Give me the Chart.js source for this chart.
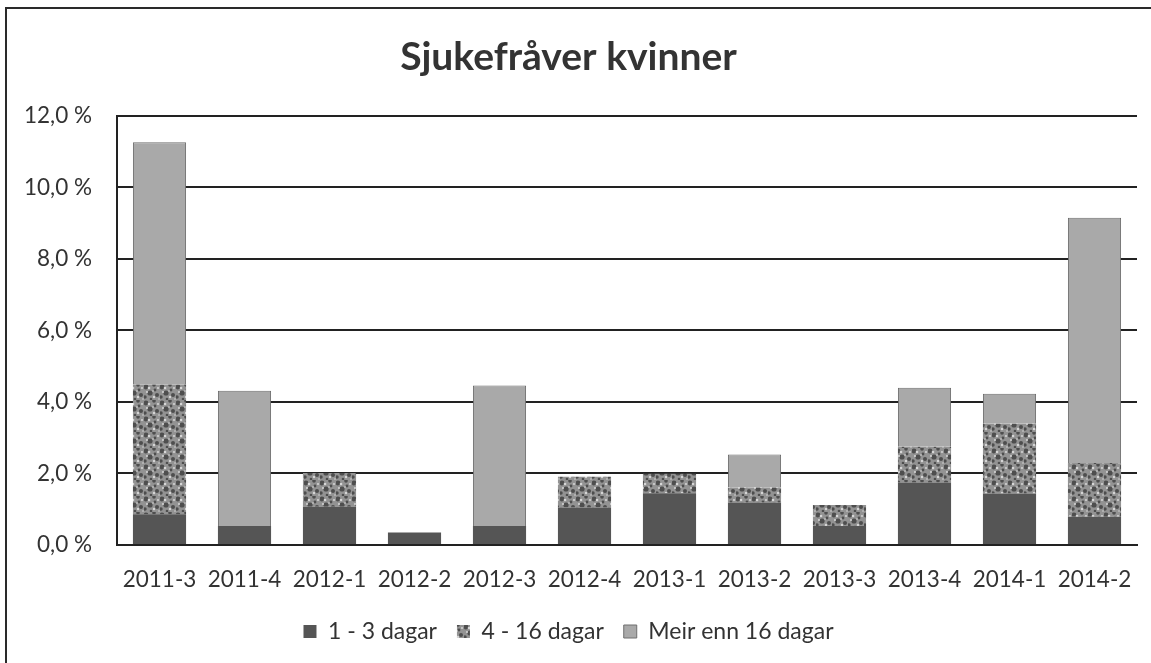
<!DOCTYPE html>
<html>
<head>
<meta charset="utf-8">
<title>Sjukefråver kvinner</title>
<script src="https://cdn.jsdelivr.net/npm/chart.js@4"></script>
<style>
  html, body { margin: 0; padding: 0; background: #fff; }
  #wrap { position: relative; width: 1151px; height: 663px; overflow: hidden; }
  #frame { position: absolute; left: 5px; top: 7px; right: -4px; bottom: -4px;
           border-left: 2px solid #2a2a2a; border-top: 2px solid #2a2a2a; }
  canvas { position: absolute; left: 0; top: 0; }
</style>
</head>
<body>
<div id="wrap">
  <div id="frame"></div>
  <canvas id="chart" width="1151" height="663"></canvas>
</div>
<script>
// Sick leave, women, per quarter (percent), stacked by length of absence
const quarters = ['2011-3', '2011-4', '2012-1', '2012-2', '2012-3', '2012-4',
                  '2013-1', '2013-2', '2013-3', '2013-4', '2014-1', '2014-2'];
const days1to3 = [0.86, 0.53, 1.07, 0.35, 0.53, 1.05, 1.45, 1.19, 0.53, 1.75, 1.44, 0.79];
const days4to16 = [3.63, null, 0.94, null, null, 0.86, 0.54, 0.42, 0.59, 1.00, 1.95, 1.50];
const over16 = [6.77, 3.78, null, null, 3.93, null, null, 0.92, null, 1.65, 0.84, 6.86];
const yTicks = [0, 2, 4, 6, 8, 10, 12];

const FONT = 'Lato, "Open Sans", sans-serif';
const INK = '#333';

// speckled fill for the middle series, like the print texture
function speckle() {
  const c = document.createElement('canvas');
  c.width = 16; c.height = 16;
  const g = c.getContext('2d');
  g.fillStyle = '#939393';
  g.fillRect(0, 0, 16, 16);
  const dark = [[2, 3, 2.4], [10, 1, 1.8], [6, 9, 2.6], [13, 11, 2.0], [1, 13, 1.7], [11, 6, 1.4], [7, 15, 1.3]];
  g.fillStyle = '#4e4e4e';
  for (const [x, y, r] of dark) { g.beginPath(); g.arc(x, y, r, 0, Math.PI * 2); g.fill(); }
  const light = [[5, 4, 1.3], [14, 4, 1.0], [3, 8, 1.0], [10, 13, 1.2], [15, 15, 0.8], [9, 7, 0.8]];
  g.fillStyle = '#d6d6d6';
  for (const [x, y, r] of light) { g.beginPath(); g.arc(x, y, r, 0, Math.PI * 2); g.fill(); }
  return g.createPattern(c, 'repeat');
}

const ctx = document.getElementById('chart').getContext('2d');
const pattern = speckle();

new Chart(ctx, {
  type: 'bar',
  data: {
    labels: quarters,
    datasets: [
      { label: '1 - 3 dagar', data: days1to3, backgroundColor: '#555555', borderWidth: 0 },
      { label: '4 - 16 dagar', data: days4to16, backgroundColor: pattern, borderWidth: 0 },
      { label: 'Meir enn 16 dagar', data: over16, backgroundColor: '#a9a9a9',
        borderColor: '#6e6e6e', borderWidth: 1, borderSkipped: 'bottom' },
    ],
  },
  options: {
    responsive: false,
    animation: false,
    devicePixelRatio: 1,
    layout: { padding: { left: 0, right: 14, top: 0, bottom: 10 } },
    datasets: { bar: { categoryPercentage: 1, barPercentage: 0.625 } },
    plugins: {
      tooltip: { enabled: false },
      title: {
        display: true,
        text: 'Sjukefråver kvinner',
        color: INK,
        font: { family: FONT, size: 39, weight: 'bold' },
        padding: { top: 34, bottom: 35 },
      },
      legend: {
        position: 'bottom',
        labels: {
          color: INK,
          font: { family: FONT, size: 23 },
          boxWidth: 13,
          boxHeight: 13,
          padding: 20,
        },
      },
    },
    scales: {
      x: {
        stacked: true,
        grid: { display: false },
        border: { display: true, color: '#222', width: 2 },
        ticks: { color: INK, font: { family: FONT, size: 22.5 }, padding: 13, maxRotation: 0 },
        afterFit: (s) => { s.height = 55; },
      },
      y: {
        stacked: true,
        min: 0,
        max: 12,
        afterBuildTicks: (s) => { s.ticks = yTicks.map((v) => ({ value: v })); },
        grid: { color: '#222', lineWidth: 2, drawTicks: false },
        border: { display: true, color: '#222', width: 2 },
        ticks: {
          color: INK,
          font: { family: FONT, size: 22.5 },
          padding: 25,
          callback: (v) => v.toFixed(1).replace('.', ',') + ' %',
        },
        afterFit: (s) => { s.width = 117; },
      },
    },
  },
});
</script>
</body>
</html>
